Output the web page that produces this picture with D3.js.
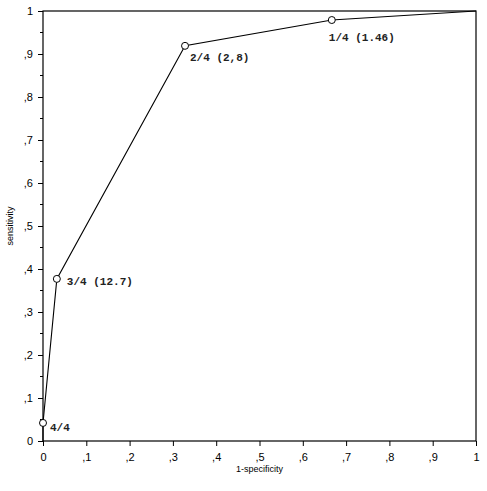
<!DOCTYPE html>
<meta charset="utf-8">
<script src="https://d3js.org/d3.v7.min.js"></script>
<style>
  body { margin: 0; background: #fff; }
  svg { display: block; }
</style>
<div id="chart"></div>
<script>
// ROC curve data
var fpr = [0, 0, 0.032, 0.328, 0.667, 1];
var tpr = [0, 0.042, 0.377, 0.919, 0.979, 1];
var marked = [false, true, true, true, true, false];
var pointLabels = ["", "4/4", "3/4 (12.7)", "2/4 (2,8)", "1/4 (1.46)", ""];
var tickValues = [0, 0.1, 0.2, 0.3, 0.4, 0.5, 0.6, 0.7, 0.8, 0.9, 1];
var tickLabels = ["0", ",1", ",2", ",3", ",4", ",5", ",6", ",7", ",8", ",9", "1"];
var minorTicks = [0.05, 0.15, 0.25, 0.35, 0.45, 0.55, 0.65, 0.75, 0.85, 0.95];

// label placement (pixels relative to the point)
var labelDx = [0, 7, 10, 5, -3, 0];
var labelDy = [0, 8, 6, 15, 21, 0];

var width = 487, height = 491;
var margin = {top: 11, right: 11, bottom: 50, left: 43};

var svg = d3.select("#chart").append("svg")
  .attr("width", width)
  .attr("height", height);

var x = d3.scaleLinear().domain([0, 1]).range([margin.left, width - margin.right]);
var y = d3.scaleLinear().domain([0, 1]).range([height - margin.bottom, margin.top]);

// frame
svg.append("rect")
  .attr("x", x(0)).attr("y", y(1))
  .attr("width", x(1) - x(0)).attr("height", y(0) - y(1))
  .attr("fill", "none").attr("stroke", "#000").attr("stroke-width", 1.2);

// x axis
var xAxis = svg.append("g")
  .attr("transform", "translate(0," + y(0) + ")")
  .call(d3.axisBottom(x).tickValues(tickValues).tickSize(5)
    .tickFormat(function (d, i) { return tickLabels[i]; }));
xAxis.select(".domain").remove();
xAxis.selectAll("text")
  .attr("font-family", "Liberation Sans, Arial, sans-serif")
  .attr("font-size", 11)
  .attr("dy", "1.1em");

// y axis
var yAxis = svg.append("g")
  .attr("transform", "translate(" + x(0) + ",0)")
  .call(d3.axisLeft(y).tickValues(tickValues).tickSize(5)
    .tickFormat(function (d, i) { return tickLabels[i]; }));
yAxis.select(".domain").remove();
yAxis.selectAll("text")
  .attr("font-family", "Liberation Sans, Arial, sans-serif")
  .attr("font-size", 11)
  .attr("x", -10);

svg.append("g")
  .selectAll("line")
  .data(minorTicks)
  .enter().append("line")
  .attr("x1", x(0) - 3).attr("x2", x(0))
  .attr("y1", function (d) { return y(d); })
  .attr("y2", function (d) { return y(d); })
  .attr("stroke", "#000");

// axis titles
svg.append("text")
  .attr("x", (x(0) + x(1)) / 2)
  .attr("y", y(0) + 31)
  .attr("text-anchor", "middle")
  .attr("font-family", "Liberation Sans, Arial, sans-serif")
  .attr("font-size", 9)
  .text("1-specificity");

svg.append("text")
  .attr("transform", "translate(13," + ((y(0) + y(1)) / 2) + ") rotate(-90)")
  .attr("text-anchor", "middle")
  .attr("font-family", "Liberation Sans, Arial, sans-serif")
  .attr("font-size", 9)
  .text("sensitivity");

// curve
var pts = fpr.map(function (d, i) {
  return {x: d, y: tpr[i], m: marked[i], label: pointLabels[i], dx: labelDx[i], dy: labelDy[i]};
});

svg.append("path")
  .datum(pts)
  .attr("fill", "none")
  .attr("stroke", "#000")
  .attr("stroke-width", 1.1)
  .attr("d", d3.line().x(function (d) { return x(d.x); }).y(function (d) { return y(d.y); }));

var mk = pts.filter(function (d) { return d.m; });

svg.selectAll("circle.pt")
  .data(mk)
  .enter().append("circle")
  .attr("class", "pt")
  .attr("cx", function (d) { return x(d.x); })
  .attr("cy", function (d) { return y(d.y); })
  .attr("r", 3.5)
  .attr("fill", "#fff")
  .attr("stroke", "#000");

svg.selectAll("text.lbl")
  .data(mk)
  .enter().append("text")
  .attr("class", "lbl")
  .attr("x", function (d) { return x(d.x) + d.dx; })
  .attr("y", function (d) { return y(d.y) + d.dy; })
  .attr("font-family", "Liberation Mono, Courier New, monospace")
  .attr("font-size", 11)
  .attr("font-weight", "bold")
  .attr("fill", "#222")
  .text(function (d) { return d.label; });
</script>
